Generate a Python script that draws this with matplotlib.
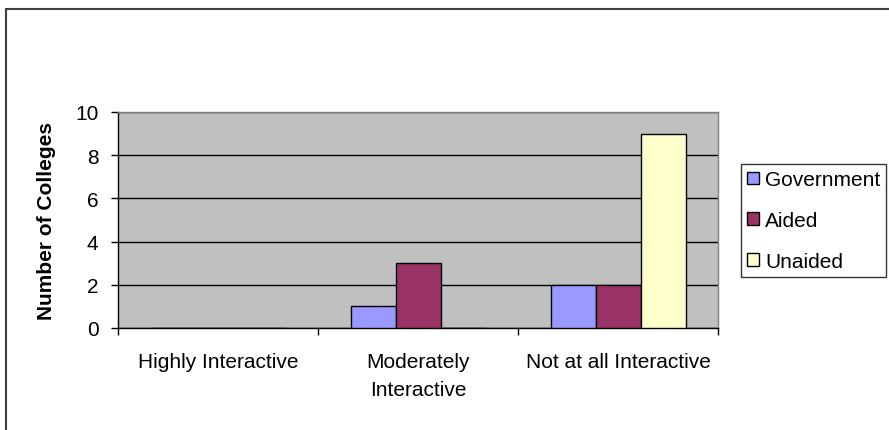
import matplotlib
matplotlib.use('Agg')
import matplotlib.pyplot as plt
from matplotlib.patches import Rectangle
import numpy as np

categories = ['Highly Interactive', 'Moderately\nInteractive', 'Not at all Interactive']
series = ['Government', 'Aided', 'Unaided']
government = [0, 1, 2]
aided = [0, 3, 2]
unaided = [0, 0, 9]
colors = ['#9999FF', '#993366', '#FFFFCC']

plt.rcParams['font.family'] = ['Liberation Sans', 'DejaVu Sans']
plt.rcParams['font.size'] = 15

fig = plt.figure(figsize=(8.89, 4.31), dpi=100)
ax = fig.add_axes([118/889, 1 - 329/431, 600/889, 216/431])
ax.set_facecolor('#C0C0C0')

x = np.arange(len(categories))
width = 0.225
for i, (name, vals) in enumerate(zip(series, [government, aided, unaided])):
    ax.bar(x + (i - 1) * width, vals, width, color=colors[i],
           edgecolor='black', linewidth=1.0, label=name, zorder=3)

ax.set_xlim(-0.5, 2.5)
ax.set_ylim(0, 10)
ax.set_yticks([0, 2, 4, 6, 8, 10])
ax.yaxis.grid(True, color='black', linewidth=1.0, zorder=1)
ax.set_axisbelow(True)

# category labels centred, ticks on the boundaries between groups
ax.set_xticks([-0.5, 0.5, 1.5, 2.5])
ax.set_xticklabels([])
ax.set_xticks(x, minor=True)
ax.set_xticklabels(categories, minor=True, linespacing=1.6, va='top')
ax.tick_params(axis='x', which='minor', length=0, pad=17)
ax.tick_params(axis='x', which='major', length=5, width=1, direction='out')
ax.tick_params(axis='y', length=5, width=1, direction='out', pad=9)

for side in ['top', 'right']:
    ax.spines[side].set_color('#808080')
    ax.spines[side].set_linewidth(1.0)
for side in ['left', 'bottom']:
    ax.spines[side].set_color('black')
    ax.spines[side].set_linewidth(1.0)

ax.set_ylabel('Number of Colleges', fontweight='bold', labelpad=14)

leg = fig.legend(loc='upper left', bbox_to_anchor=(741/889, 1 - 165/431),
                 frameon=True, fancybox=False, handlelength=0.55, handleheight=0.55,
                 handletextpad=0.3, labelspacing=1.05, borderpad=0.3,
                 borderaxespad=0)
leg.get_frame().set_edgecolor('black')
leg.get_frame().set_linewidth(1.0)

# outer chart border
fig.patches.append(Rectangle((6/889, -0.05), 1.0, 1 - 10/431 + 0.05,
                             transform=fig.transFigure, fill=False,
                             edgecolor='#404040', linewidth=1.5))

fig.savefig('out.png', dpi=100)
